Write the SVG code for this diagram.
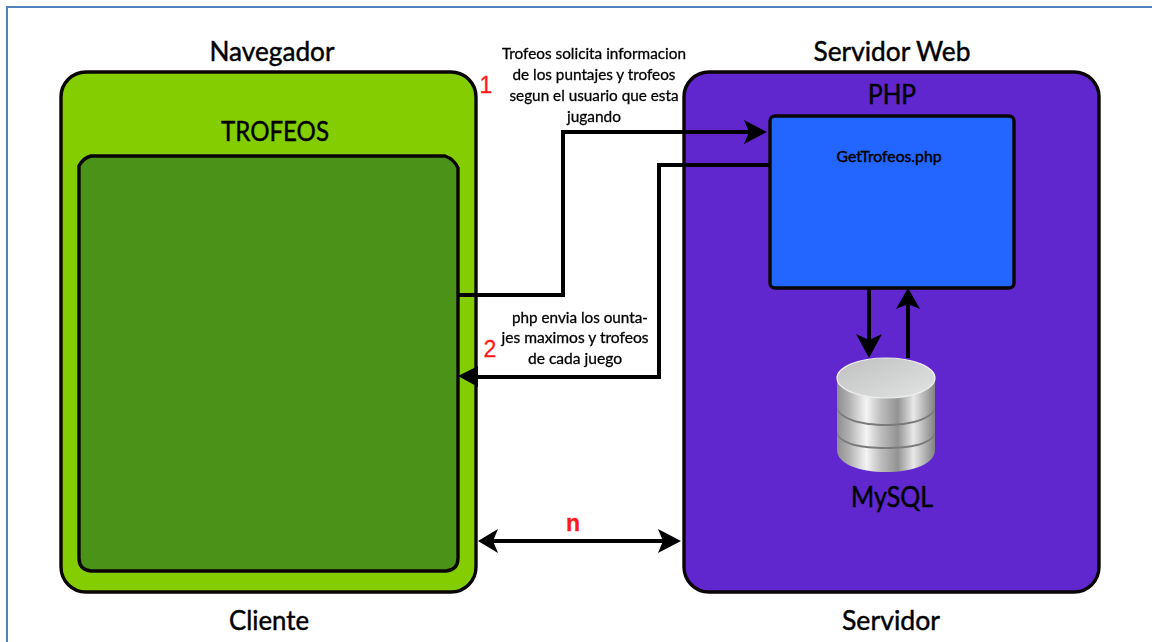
<svg xmlns="http://www.w3.org/2000/svg" width="1152" height="642" viewBox="0 0 1152 642">
<style>
.box{stroke:#0a0505;stroke-width:3.4}
.t{font-family:Lato,"Liberation Sans",sans-serif;fill:#000;stroke:#000;stroke-width:.45;text-anchor:middle}
.h{font-size:27px}
.s{font-size:15.5px;stroke-width:.3}
.r{font-family:"Liberation Sans",Lato,sans-serif;fill:#ff1a1a;stroke:#ff1a1a;stroke-width:.3;text-anchor:middle;font-size:23px}
.c{fill:none;stroke:#000;stroke-width:4}
.a{fill:#000}
</style>
<defs>
<linearGradient id="side" x1="0" x2="1" y1="0" y2="0">
<stop offset="0" stop-color="#8e8e8e"/><stop offset=".12" stop-color="#b0b0b0"/><stop offset=".3" stop-color="#f4f4f4"/><stop offset=".45" stop-color="#bcbcbc"/><stop offset=".62" stop-color="#939393"/><stop offset=".78" stop-color="#e8e8e8"/><stop offset="1" stop-color="#828282"/>
</linearGradient>
<linearGradient id="top" x1="0" x2="1" y1="0" y2="1">
<stop offset="0" stop-color="#bfbfbf"/><stop offset="1" stop-color="#e2e4e4"/>
</linearGradient>
<filter id="soft" x="-5%" y="-5%" width="110%" height="110%"><feGaussianBlur stdDeviation="0.4"/></filter>
</defs>
<rect width="1152" height="642" fill="#fff"/>
<path d="M7 642V7H1152" fill="none" stroke="#4f81bd" stroke-width="2"/>

<g id="navegador">
<rect class="box" x="61" y="72" width="415" height="520" rx="25" fill="#84cd00"/>
<text class="t h" x="272" y="61" textLength="125" lengthAdjust="spacingAndGlyphs">Navegador</text>
</g>
<g id="trofeos">
<path class="box" d="M91 156H445Q454 159 458 168V558Q458 570 446 571H91Q79 570 79 558V166Q83 158 91 156Z" fill="#4a9218"/>
<text class="t h" x="275" y="141" textLength="108" lengthAdjust="spacingAndGlyphs">TROFEOS</text>
</g>
<g id="servidor">
<rect class="box" x="684" y="72" width="415" height="520" rx="25" fill="#5f27cd"/>
<text class="t h" x="892" y="61" textLength="157" lengthAdjust="spacingAndGlyphs">Servidor Web</text>
<text class="t h" x="892" y="104" textLength="48" lengthAdjust="spacingAndGlyphs">PHP</text>
</g>
<g id="getTrofeos">
<rect class="box" x="770" y="116" width="244" height="172" rx="5" fill="#2266ff"/>
<text class="t" x="889" y="162" font-size="15.5" stroke-width=".3" textLength="105" lengthAdjust="spacingAndGlyphs">GetTrofeos.php</text>
</g>
<g id="mysql">
<path d="M837 378V450C837 464 859 472 886 472S935 464 935 450V378Z" fill="url(#side)"/>
<path d="M837 407C840 418 862 424 886 424S932 418 935 407V409C932 420 910 426 886 426S840 420 837 409Z" fill="#7a7a7a"/>
<path d="M837 432C840 443 862 447 886 447S932 443 935 432V434C932 445 910 449 886 449S840 445 837 434Z" fill="#7a7a7a"/>
<ellipse cx="886" cy="378" rx="49" ry="20" fill="url(#top)" stroke="#eeeeee" stroke-width="1.2"/>
<text class="t" x="892" y="507" font-size="29" textLength="82" lengthAdjust="spacingAndGlyphs">MySQL</text>
</g>
<g id="connectors">
<path class="c" d="M458 295H563V132H750"/>
<path class="a" d="M767 132L744 120L749 132L744 144Z"/>
<path class="c" d="M770 165H659V377H475"/>
<path class="a" d="M458 376L478 366V387Z"/>
<path class="c" d="M869 288V345"/>
<path class="a" d="M869 358L856 334L869 340L882 334Z"/>
<path class="c" d="M908 358V300"/>
<path class="a" d="M908 288L896 309L908 304L920 309Z"/>
<path class="c" d="M485 541H672"/>
<path class="a" d="M478 541L498 529L493 541L498 553Z"/>
<path class="a" d="M681 541L658 529L663 541L658 553Z"/>
</g>
<g id="labels" filter="url(#soft)">
<text class="t s" x="594" y="59" textLength="184" lengthAdjust="spacingAndGlyphs">Trofeos solicita informacion</text>
<text class="t s" x="594" y="80" textLength="163" lengthAdjust="spacingAndGlyphs">de los puntajes y trofeos</text>
<text class="t s" x="594" y="101" textLength="169" lengthAdjust="spacingAndGlyphs">segun el usuario que esta</text>
<text class="t s" x="594" y="122" textLength="54" lengthAdjust="spacingAndGlyphs">jugando</text>
<text class="t s" x="580" y="323" textLength="136" lengthAdjust="spacingAndGlyphs">php envia los ounta-</text>
<text class="t s" x="575" y="343" textLength="147" lengthAdjust="spacingAndGlyphs">jes maximos y trofeos</text>
<text class="t s" x="575" y="364" textLength="94" lengthAdjust="spacingAndGlyphs">de cada juego</text>
</g>
<text class="r" x="486" y="93">1</text>
<text class="r" x="490" y="357">2</text>
<text class="r" x="573" y="531" font-weight="700">n</text>
<text class="t h" x="269" y="630" textLength="80" lengthAdjust="spacingAndGlyphs">Cliente</text>
<text class="t h" x="891" y="630" textLength="98" lengthAdjust="spacingAndGlyphs">Servidor</text>
</svg>
